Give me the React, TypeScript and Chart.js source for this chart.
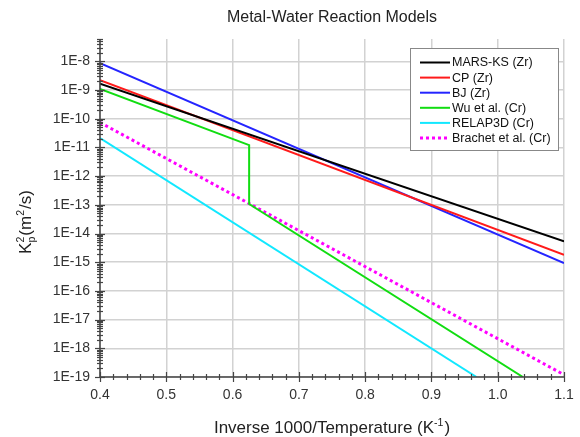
import React, { useEffect, useRef } from "react";
import { Chart, registerables } from "chart.js";

Chart.register(...registerables);

const FONT = '"Liberation Sans", Arial, Helvetica, sans-serif';

const TITLE = "Metal-Water Reaction Models";

const X_TICKS = [0.4, 0.5, 0.6, 0.7, 0.8, 0.9, 1.0, 1.1];
const X_TICK_LABELS = ["0.4", "0.5", "0.6", "0.7", "0.8", "0.9", "1.0", "1.1"];
const Y_TICK_EXPONENTS = [-19, -18, -17, -16, -15, -14, -13, -12, -11, -10, -9, -8];

const MARS_X = [0.4, 1.1];
const MARS_Y = [1.65e-9, 5.3e-15];
const CP_X = [0.4, 1.1];
const CP_Y = [2.2e-9, 1.8e-15];
const BJ_X = [0.4, 1.1];
const BJ_Y = [8.7e-9, 9.3e-16];
const WU_X = [0.4, 0.625, 0.625, 1.038];
const WU_Y = [1.1e-9, 1.2e-11, 1.07e-13, 1e-19];
const RELAP_X = [0.4, 0.968];
const RELAP_Y = [2.1e-11, 1e-19];
const BRACHET_X = [0.4, 1.1];
const BRACHET_Y = [7.4e-11, 1.2e-19];

const SERIES = [
  { label: "MARS-KS (Zr)", xs: MARS_X, ys: MARS_Y, color: "#000000", dash: [] as number[] },
  { label: "CP (Zr)", xs: CP_X, ys: CP_Y, color: "#ff1a1a", dash: [] as number[] },
  { label: "BJ (Zr)", xs: BJ_X, ys: BJ_Y, color: "#2424ff", dash: [] as number[] },
  { label: "Wu et al. (Cr)", xs: WU_X, ys: WU_Y, color: "#11dd11", dash: [] as number[] },
  { label: "RELAP3D (Cr)", xs: RELAP_X, ys: RELAP_Y, color: "#11e8ff", dash: [] as number[] },
  { label: "Brachet et al. (Cr)", xs: BRACHET_X, ys: BRACHET_Y, color: "#ff00ff", dash: [3, 3] },
];

type Part = { t: string; kind?: "sup" | "sub" | "stack"; t2?: string };

function drawRich(ctx: CanvasRenderingContext2D, parts: Part[], cx: number, cy: number, size: number) {
  const small = size * 0.62;
  const widths = parts.map((p) => {
    if (!p.kind) {
      ctx.font = `${size}px ${FONT}`;
      return ctx.measureText(p.t).width;
    }
    ctx.font = `${small}px ${FONT}`;
    return Math.max(ctx.measureText(p.t).width, p.t2 ? ctx.measureText(p.t2).width : 0) + 1;
  });
  const total = widths.reduce((a, b) => a + b, 0);
  let x = cx - total / 2;
  const base = cy + size * 0.36;
  ctx.textAlign = "left";
  ctx.textBaseline = "alphabetic";
  parts.forEach((p, i) => {
    if (!p.kind) {
      ctx.font = `${size}px ${FONT}`;
      ctx.fillText(p.t, x, base);
    } else {
      ctx.font = `${small}px ${FONT}`;
      if (p.kind === "sup") ctx.fillText(p.t, x, base - size * 0.42);
      else if (p.kind === "sub") ctx.fillText(p.t, x, base + size * 0.2);
      else {
        ctx.fillText(p.t, x, base - size * 0.42);
        ctx.fillText(p.t2 || "", x, base + size * 0.22);
      }
    }
    x += widths[i];
  });
}

const decorPlugin = {
  id: "decor",
  afterDraw(chart: any) {
    const ctx: CanvasRenderingContext2D = chart.ctx;
    const { left, right, top, bottom } = chart.chartArea;
    const xs = chart.scales.x;
    const ys = chart.scales.y;
    ctx.save();
    // axis lines
    ctx.strokeStyle = "#444";
    ctx.lineWidth = 1.5;
    ctx.beginPath();
    ctx.moveTo(left, top);
    ctx.lineTo(left, bottom);
    ctx.lineTo(right, bottom);
    ctx.stroke();
    // x ticks
    ctx.lineWidth = 1.2;
    for (let i = 0; i <= 35; i++) {
      const v = 0.4 + i * 0.02;
      const px = Math.round(xs.getPixelForValue(v)) + 0.5;
      const l = i % 5 === 0 ? 5 : 3;
      ctx.beginPath();
      ctx.moveTo(px, bottom - l);
      ctx.lineTo(px, bottom + l);
      ctx.stroke();
    }
    // y ticks
    for (const e of Y_TICK_EXPONENTS) {
      for (let m = 1; m <= 9; m++) {
        const v = m * Math.pow(10, e);
        if (v > ys.max * 1.0001) break;
        const py = Math.round(ys.getPixelForValue(v)) + 0.5;
        const l = m === 1 ? 5 : 3;
        ctx.beginPath();
        ctx.moveTo(left - l, py);
        ctx.lineTo(left + l, py);
        ctx.stroke();
      }
    }
    // title
    ctx.fillStyle = "#222";
    ctx.font = `16px ${FONT}`;
    ctx.textAlign = "center";
    ctx.textBaseline = "middle";
    ctx.fillText(TITLE, (left + right) / 2, 18);
    // x title
    drawRich(
      ctx,
      [{ t: "Inverse 1000/Temperature (K" }, { t: "-1", kind: "sup" }, { t: ")" }],
      (left + right) / 2,
      427,
      17
    );
    // y title
    ctx.save();
    ctx.translate(25, 222);
    ctx.rotate(-Math.PI / 2);
    drawRich(
      ctx,
      [{ t: "K" }, { t: "2", t2: "p", kind: "stack" }, { t: "(m" }, { t: "2", kind: "sup" }, { t: "/s)" }],
      0,
      0,
      17
    );
    ctx.restore();
    // legend
    const bx = 410, by = 48, bw = 148, bh = 102;
    ctx.fillStyle = "#ffffff";
    ctx.fillRect(bx, by, bw, bh);
    ctx.strokeStyle = "#888";
    ctx.lineWidth = 1;
    ctx.strokeRect(bx + 0.5, by + 0.5, bw, bh);
    ctx.font = `12.5px ${FONT}`;
    ctx.textAlign = "left";
    ctx.textBaseline = "middle";
    chart.data.datasets.forEach((ds: any, i: number) => {
      const yy = 62.5 + i * 15.1;
      ctx.strokeStyle = ds.borderColor;
      ctx.lineWidth = ds.borderWidth;
      ctx.setLineDash(ds.borderDash || []);
      ctx.beginPath();
      ctx.moveTo(420, yy);
      ctx.lineTo(450, yy);
      ctx.stroke();
      ctx.setLineDash([]);
      ctx.fillStyle = "#111";
      ctx.fillText(ds.label, 452, yy + 0.5);
    });
    ctx.restore();
  },
};

export default function App() {
  const ref = useRef<HTMLCanvasElement>(null);
  useEffect(() => {
    document.body.style.margin = "0";
    const canvas = ref.current!;
    const chart = new Chart(canvas, {
      type: "scatter",
      data: {
        datasets: SERIES.map((s) => ({
          label: s.label,
          data: s.xs.map((x, i) => ({ x, y: s.ys[i] })),
          showLine: true,
          borderColor: s.color,
          backgroundColor: s.color,
          borderWidth: s.dash.length ? 3 : 2,
          borderDash: s.dash,
          pointRadius: 0,
          tension: 0,
        })),
      },
      options: {
        responsive: false,
        animation: false,
        devicePixelRatio: 1,
        layout: { padding: { top: 39, right: 16, left: 0, bottom: 0 } },
        plugins: {
          legend: { display: false },
          tooltip: { enabled: false },
          title: { display: false },
        },
        scales: {
          x: {
            type: "linear",
            min: 0.4,
            max: 1.1,
            afterFit(s: any) {
              s.height = 60;
              s.paddingLeft = 0;
              s.paddingRight = 0;
            },
            afterBuildTicks(s: any) {
              s.ticks = X_TICKS.map((v) => ({ value: v }));
            },
            ticks: {
              autoSkip: false,
              maxRotation: 0,
              padding: 10,
              color: "#333",
              font: { family: FONT, size: 14 },
              callback: (v: any) => {
                const i = X_TICKS.findIndex((t) => Math.abs(t - v) < 1e-6);
                return i >= 0 ? X_TICK_LABELS[i] : "";
              },
            },
            grid: { color: "#d2d2d2", lineWidth: 1.5, drawTicks: false },
            border: { display: false },
          },
          y: {
            type: "logarithmic",
            min: 1e-19,
            max: 6e-8,
            afterFit(s: any) {
              s.width = 100;
              s.paddingTop = 0;
              s.paddingBottom = 0;
            },
            afterBuildTicks(s: any) {
              s.ticks = Y_TICK_EXPONENTS.map((e) => ({ value: Math.pow(10, e) }));
            },
            ticks: {
              autoSkip: false,
              padding: 10,
              color: "#333",
              font: { family: FONT, size: 14 },
              callback: (v: any) => "1E" + Math.round(Math.log10(v)),
            },
            grid: { color: "#d2d2d2", lineWidth: 1.5, drawTicks: false },
            border: { display: false },
          },
        },
      },
      plugins: [decorPlugin],
    });
    return () => chart.destroy();
  }, []);
  return <canvas ref={ref} width={580} height={437} style={{ display: "block" }} />;
}
